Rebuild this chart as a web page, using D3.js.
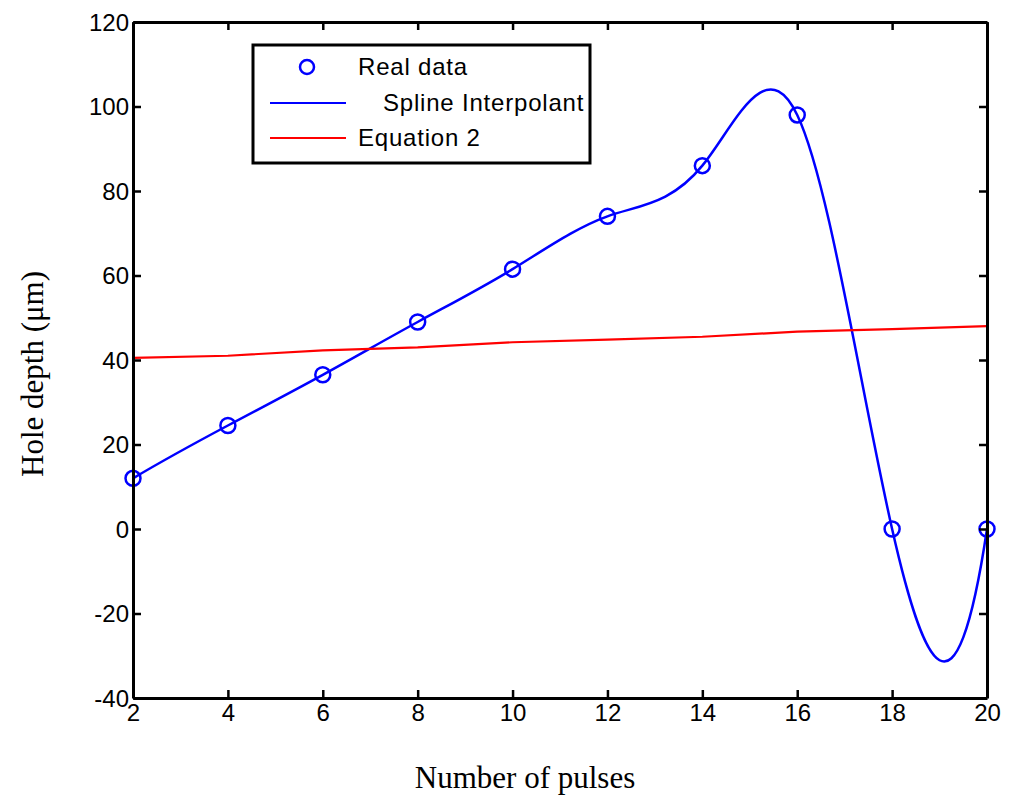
<!DOCTYPE html>
<html><head><meta charset="utf-8">
<script src="https://cdn.jsdelivr.net/npm/d3@7/dist/d3.min.js"></script>
<style>body{margin:0;background:#fff}</style>
</head><body>
<svg id="c" width="1009" height="800"></svg>
<script>
const pulses = [2,4,6,8,10,12,14,16,18,20];
const realData = [12,24.5,36.5,49,61.5,74,86,98,0,0];
const equation2 = [40.5,41,42.3,43,44.2,44.8,45.5,46.7,47.3,48];
const xTicks = [2,4,6,8,10,12,14,16,18,20];
const yTicks = [-40,-20,0,20,40,60,80,100,120];
const legendLabels = ["Real data","Spline Interpolant","Equation 2"];

// Custom d3 curve: cubic spline with "not-a-knot" end conditions (like MATLAB spline)
function NotAKnot(context){ this._context = context; }
NotAKnot.prototype = {
  areaStart(){ this._line = 0; }, areaEnd(){ this._line = NaN; },
  lineStart(){ this._x = []; this._y = []; },
  point(x,y){ this._x.push(+x); this._y.push(+y); },
  lineEnd(){
    const X=this._x, Y=this._y, n=X.length, c=this._context;
    if(!n) return;
    c.moveTo(X[0],Y[0]);
    if(n<4){ for(let i=1;i<n;i++) c.lineTo(X[i],Y[i]); return; }
    const h=[]; for(let i=0;i<n-1;i++) h.push(X[i+1]-X[i]);
    // build system for second derivatives M
    const A=[], b=[];
    for(let i=0;i<n;i++){ A.push(new Array(n).fill(0)); b.push(0); }
    A[0][0]=h[1]; A[0][1]=-(h[0]+h[1]); A[0][2]=h[0];
    for(let i=1;i<n-1;i++){
      A[i][i-1]=h[i-1]; A[i][i]=2*(h[i-1]+h[i]); A[i][i+1]=h[i];
      b[i]=6*((Y[i+1]-Y[i])/h[i]-(Y[i]-Y[i-1])/h[i-1]);
    }
    const m=n-1;
    A[m][m-2]=h[m-1]; A[m][m-1]=-(h[m-2]+h[m-1]); A[m][m]=h[m-2];
    // gaussian elimination with partial pivoting
    for(let k=0;k<n;k++){
      let p=k; for(let i=k+1;i<n;i++) if(Math.abs(A[i][k])>Math.abs(A[p][k])) p=i;
      [A[k],A[p]]=[A[p],A[k]]; [b[k],b[p]]=[b[p],b[k]];
      for(let i=k+1;i<n;i++){ const f=A[i][k]/A[k][k]; if(!f) continue;
        for(let j=k;j<n;j++) A[i][j]-=f*A[k][j]; b[i]-=f*b[k]; }
    }
    const M=new Array(n).fill(0);
    for(let i=n-1;i>=0;i--){ let s=b[i]; for(let j=i+1;j<n;j++) s-=A[i][j]*M[j]; M[i]=s/A[i][i]; }
    for(let i=0;i<n-1;i++){
      const d=(Y[i+1]-Y[i])/h[i];
      const s0=d-h[i]*(2*M[i]+M[i+1])/6, s1=d+h[i]*(M[i]+2*M[i+1])/6;
      c.bezierCurveTo(X[i]+h[i]/3, Y[i]+h[i]*s0/3, X[i+1]-h[i]/3, Y[i+1]-h[i]*s1/3, X[i+1], Y[i+1]);
    }
  }
};
const curveNotAKnot = ctx => new NotAKnot(ctx);

const svg = d3.select("#c");
const L=133,R=987,T=22,B=698;
const x = d3.scaleLinear().domain([2,20]).range([L,R]);
const y = d3.scaleLinear().domain([-40,120]).range([B,T]);

const g = svg.append("g");
const pts = pulses.map((p,i)=>[p,realData[i]]);
g.append("path").datum(pts)
 .attr("d", d3.line().x(d=>x(d[0])).y(d=>y(d[1])).curve(curveNotAKnot))
 .attr("fill","none").attr("stroke","#0000ff").attr("stroke-width",2.5);
g.append("path").datum(pulses.map((p,i)=>[p,equation2[i]]))
 .attr("d", d3.line().x(d=>x(d[0])).y(d=>y(d[1])))
 .attr("fill","none").attr("stroke","#ff0000").attr("stroke-width",2.2);
g.selectAll("circle.pt").data(pts).enter().append("circle")
 .attr("cx",d=>x(d[0])).attr("cy",d=>y(d[1])).attr("r",7.5)
 .attr("fill","none").attr("stroke","#0000ff").attr("stroke-width",2.5);

const fontT = "Liberation Sans, Arial, sans-serif";
const fmt = d => String(d);
const axB = svg.append("g").attr("transform",`translate(0,${B})`)
 .call(d3.axisBottom(x).tickValues(xTicks).tickSizeInner(-8).tickSizeOuter(0).tickPadding(6).tickFormat(fmt));
const axT = svg.append("g").attr("transform",`translate(0,${T})`)
 .call(d3.axisTop(x).tickValues(xTicks).tickSizeInner(-8).tickSizeOuter(0).tickFormat(""));
const axL = svg.append("g").attr("transform",`translate(${L},0)`)
 .call(d3.axisLeft(y).tickValues(yTicks).tickSizeInner(-8).tickSizeOuter(0).tickPadding(4).tickFormat(fmt));
const axR = svg.append("g").attr("transform",`translate(${R},0)`)
 .call(d3.axisRight(y).tickValues(yTicks).tickSizeInner(-8).tickSizeOuter(0).tickFormat(""));
[axB,axT,axL,axR].forEach(a=>{
  a.select(".domain").attr("stroke","#000").attr("stroke-width",3);
  a.selectAll(".tick line").attr("stroke","#000").attr("stroke-width",2.5);
  a.selectAll("text").attr("font-family",fontT).attr("font-size",24).attr("fill","#000");
});
axB.selectAll("text").attr("dy","0.71em");
axL.selectAll("text").attr("dy","0.35em");

svg.append("text").attr("x",525).attr("y",788).attr("text-anchor","middle")
 .attr("font-family","Liberation Serif, Times New Roman, serif").attr("font-size",31).text("Number of pulses");
svg.append("text").attr("transform",`translate(43,374) rotate(-90)`).attr("text-anchor","middle")
 .attr("font-family","Liberation Serif, Times New Roman, serif").attr("font-size",31).text("Hole depth (μm)");

const lg = svg.append("g");
lg.append("rect").attr("x",253).attr("y",45).attr("width",337).attr("height",118)
 .attr("fill","#fff").attr("stroke","#000").attr("stroke-width",3);
lg.append("circle").attr("cx",307).attr("cy",67).attr("r",7).attr("fill","none").attr("stroke","#0000ff").attr("stroke-width",2.5);
lg.append("line").attr("x1",270).attr("x2",346).attr("y1",103).attr("y2",103).attr("stroke","#0000ff").attr("stroke-width",2.2);
lg.append("line").attr("x1",270).attr("x2",346).attr("y1",138).attr("y2",138).attr("stroke","#ff0000").attr("stroke-width",2.2);
const lx=[358,383,358], ly=[67,103,138];
legendLabels.forEach((t,i)=>{
  lg.append("text").attr("x",lx[i]).attr("y",ly[i]).attr("dy","0.35em")
   .attr("font-family",fontT).attr("font-size",24).attr("letter-spacing",0.8).text(t);
});
</script>
</body></html>
